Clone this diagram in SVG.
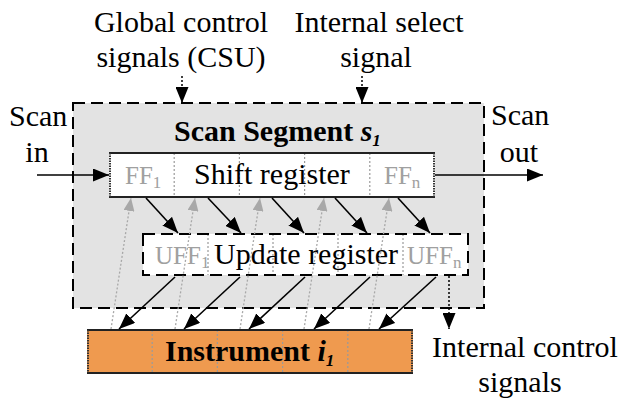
<svg xmlns="http://www.w3.org/2000/svg" width="622" height="404" viewBox="0 0 622 404">
  <defs>
    <style>
      text { font-family: "Liberation Serif", "Times New Roman", serif; }
      .t { font-size: 30px; fill: #000; }
      .b { font-size: 30px; font-weight: bold; fill: #000; }
      .g { font-size: 25px; fill: #a0a0a0; }
      .sub { font-size: 17px; }
      .cell { stroke: #9a9a9a; stroke-width: 1.2; stroke-dasharray: 2 2; fill: none; }
      .edge { stroke: #222; stroke-width: 2; fill: none; }
      .side { stroke: #333; stroke-width: 2; stroke-dasharray: 1.5 1; fill: none; }
      .arr { stroke: #000; stroke-width: 1.6; fill: none; marker-end: url(#ab); }
      .garr { stroke: #a8a8a8; stroke-width: 1.3; stroke-dasharray: 2 2; fill: none; marker-end: url(#ag); }
      .darr { stroke: #000; stroke-width: 1.5; stroke-dasharray: 2 2; fill: none; marker-end: url(#ab); }
    </style>
    <marker id="ab" viewBox="0 0 16 13" refX="16" refY="6.5" markerWidth="16" markerHeight="13" markerUnits="userSpaceOnUse" orient="auto">
      <path d="M0,0 L16,6.5 L0,13 Z" fill="#000"/>
    </marker>
    <marker id="ag" viewBox="0 0 13 11" refX="13" refY="5.5" markerWidth="13" markerHeight="11" markerUnits="userSpaceOnUse" orient="auto">
      <path d="M0,0 L13,5.5 L0,11 Z" fill="#a8a8a8"/>
    </marker>
  </defs>

  <g id="labels">
    <text class="t" x="181" y="32" text-anchor="middle">Global control</text>
    <text class="t" x="181" y="67" text-anchor="middle">signals (CSU)</text>
    <text class="t" x="379" y="32" text-anchor="middle">Internal select</text>
    <text class="t" x="376" y="67" text-anchor="middle">signal</text>
    <text class="t" x="9" y="126">Scan</text>
    <text class="t" x="37" y="162" text-anchor="middle">in</text>
    <text class="t" x="491" y="125">Scan</text>
    <text class="t" x="519" y="162" text-anchor="middle">out</text>
    <text class="t" x="525" y="357" text-anchor="middle">Internal control</text>
    <text class="t" x="520" y="392" text-anchor="middle">signals</text>
  </g>

  <g id="scan-segment">
    <rect x="73" y="103" width="411" height="205" fill="#e3e3e3" stroke="#000" stroke-width="2" stroke-dasharray="12 6"/>
    <text class="b" x="174" y="141">Scan Segment <tspan font-style="italic">s</tspan><tspan class="sub" font-style="italic" dy="5">1</tspan></text>
  </g>

  <g id="shift-register">
    <rect x="109" y="153" width="326" height="44" fill="#fff"/>
    <line class="cell" x1="174.2" y1="153" x2="174.2" y2="197"/>
    <line class="cell" x1="239.4" y1="153" x2="239.4" y2="197"/>
    <line class="cell" x1="304.6" y1="153" x2="304.6" y2="197"/>
    <line class="cell" x1="369.8" y1="153" x2="369.8" y2="197"/>
    <line class="edge" x1="109" y1="153" x2="435" y2="153"/>
    <line class="edge" x1="109" y1="197" x2="435" y2="197"/>
    <line class="side" x1="110" y1="153" x2="110" y2="197"/>
    <line class="side" x1="434" y1="153" x2="434" y2="197"/>
    <text class="g" x="125" y="184">FF<tspan class="sub" dy="4">1</tspan></text>
    <text class="t" x="194" y="184">Shift register</text>
    <text class="g" x="384" y="184">FF<tspan class="sub" dy="4">n</tspan></text>
  </g>

  <g id="update-register">
    <rect x="143" y="234" width="325" height="41" fill="#fff"/>
    <line class="cell" x1="208" y1="234" x2="208" y2="275"/>
    <line class="cell" x1="273" y1="234" x2="273" y2="275"/>
    <line class="cell" x1="338" y1="234" x2="338" y2="275"/>
    <line class="cell" x1="403" y1="234" x2="403" y2="275"/>
    <rect x="143" y="234" width="325" height="41" fill="none" stroke="#000" stroke-width="2" stroke-dasharray="12 6"/>
    <text class="g" x="155" y="264">UFF<tspan class="sub" dy="4">1</tspan></text>
    <text class="t" x="214" y="264">Update register</text>
    <text class="g" x="407" y="264">UFF<tspan class="sub" dy="4">n</tspan></text>
  </g>

  <g id="instrument">
    <rect x="87" y="330" width="326" height="43" fill="#ef9a4f"/>
    <line class="cell" x1="152.2" y1="330" x2="152.2" y2="373"/>
    <line class="cell" x1="217.4" y1="330" x2="217.4" y2="373"/>
    <line class="cell" x1="282.6" y1="330" x2="282.6" y2="373"/>
    <line class="cell" x1="347.8" y1="330" x2="347.8" y2="373"/>
    <line class="edge" x1="87" y1="330" x2="413" y2="330"/>
    <line class="edge" x1="87" y1="373" x2="413" y2="373"/>
    <line class="side" x1="88" y1="330" x2="88" y2="373"/>
    <line class="side" x1="412" y1="330" x2="412" y2="373"/>
    <text class="b" x="165" y="361">Instrument <tspan font-style="italic">i</tspan><tspan class="sub" font-style="italic" dy="5">1</tspan></text>
  </g>

  <g id="connectors">
    <line class="arr" x1="37" y1="175" x2="109" y2="175"/>
    <line class="arr" x1="435" y1="175" x2="543" y2="175"/>
    <line class="darr" x1="182" y1="76" x2="182" y2="103"/>
    <line class="darr" x1="362" y1="76" x2="362" y2="103"/>
    <line class="darr" x1="449" y1="276" x2="449" y2="329"/>
    <line class="arr" x1="146" y1="198" x2="178" y2="233"/>
    <line class="arr" x1="208" y1="198" x2="241" y2="233"/>
    <line class="arr" x1="272" y1="198" x2="304" y2="233"/>
    <line class="arr" x1="335" y1="198" x2="367" y2="233"/>
    <line class="arr" x1="398" y1="198" x2="430" y2="233"/>
    <line class="arr" x1="175" y1="277" x2="119" y2="329"/>
    <line class="arr" x1="240" y1="277" x2="184" y2="329"/>
    <line class="arr" x1="305" y1="277" x2="249" y2="329"/>
    <line class="arr" x1="370" y1="277" x2="314" y2="329"/>
    <line class="arr" x1="436" y1="277" x2="379" y2="329"/>
    <line class="garr" x1="111" y1="329" x2="131" y2="198"/>
    <line class="garr" x1="175" y1="329" x2="195" y2="198"/>
    <line class="garr" x1="240" y1="329" x2="260" y2="198"/>
    <line class="garr" x1="304" y1="329" x2="324" y2="198"/>
    <line class="garr" x1="369" y1="329" x2="389" y2="198"/>
  </g>
</svg>
